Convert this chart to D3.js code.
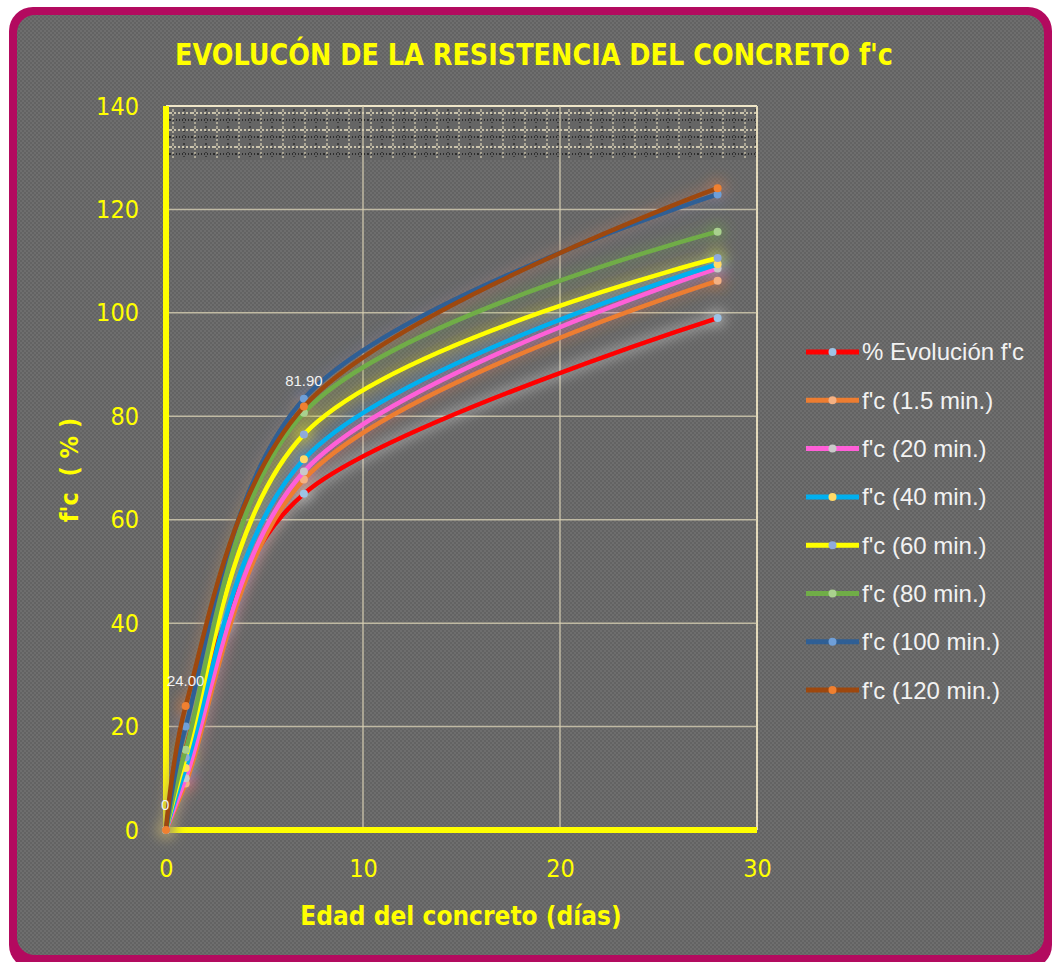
<!DOCTYPE html>
<html>
<head>
<meta charset="utf-8">
<script src="https://cdn.jsdelivr.net/npm/d3@7"></script>
<style>
  html, body { margin: 0; padding: 0; background: #ffffff; }
  svg { display: block; }
</style>
</head>
<body>
<script>
// Age of the concrete (days) at each test
const days = [0, 1, 3, 7, 28];

// Strength reached, as % of f'c, per mixing-time series (null = not tested)
const evolucion = [0, null, 40, 65, 99];
const fc1_5 = [0, 9, null, 67.8, 106.2];
const fc20 = [0, 10, null, 69.3, 108.6];
const fc40 = [0, 12, null, 71.7, 109.4];
const fc60 = [0, 14, null, 76.5, 110.6];
const fc80 = [0, 15.5, null, 80.7, 115.7];
const fc100 = [0, 20, null, 83.4, 122.9];
const fc120 = [0, 24, null, 81.9, 124.1];

const seriesNames = ["% Evolución f'c", "f'c (1.5 min.)", "f'c (20 min.)", "f'c (40 min.)",
  "f'c (60 min.)", "f'c (80 min.)", "f'c (100 min.)", "f'c (120 min.)"];
const seriesValues = [evolucion, fc1_5, fc20, fc40, fc60, fc80, fc100, fc120];
const lineColors = ["#ff0000", "#ed7d31", "#ff5fd8", "#00b0f0", "#ffff00", "#70ad47", "#2f5f95", "#9e480e"];
const markerColors = ["#9dc3e6", "#f4b183", "#c9c9c9", "#ffd966", "#8faadc", "#a9d18e", "#6f9fd8", "#f08030"];
const glowColors = ["#e8e8e8", "#ed7d31", "#ff5fd8", "#00b0f0", "#ffff00", "#70ad47", "#4a7fc0", "#ed7d31"];

const xTicks = [0, 10, 20, 30];
const yTicks = [0, 20, 40, 60, 80, 100, 120, 140];

// Point labels shown for the last series: index into days
const labelledPoints = [0, 1, 3];

const W = 1052, H = 962;
const svg = d3.select("body").append("svg").attr("width", W).attr("height", H);
const defs = svg.append("defs");

// fine checkered grey used for the card background
const chk = defs.append("pattern").attr("id", "chk").attr("width", 4).attr("height", 4)
  .attr("patternUnits", "userSpaceOnUse");
chk.append("rect").attr("width", 4).attr("height", 4).attr("fill", "#6e6e6e");
chk.append("rect").attr("width", 2).attr("height", 2).attr("fill", "#636363");
chk.append("rect").attr("x", 2).attr("y", 2).attr("width", 2).attr("height", 2).attr("fill", "#636363");

// dotted texture of the top band of the plot
const band = defs.append("pattern").attr("id", "band").attr("width", 22).attr("height", 17)
  .attr("patternUnits", "userSpaceOnUse").attr("x", 170).attr("y", 110);
band.append("rect").attr("width", 22).attr("height", 17).attr("fill", "#656565");
band.append("line").attr("x1", 0).attr("x2", 22).attr("y1", 3).attr("y2", 3)
  .attr("stroke", "#ece2c4").attr("stroke-width", 1.4).attr("stroke-dasharray", "2,2");
band.append("line").attr("x1", 0).attr("x2", 22).attr("y1", 10).attr("y2", 10)
  .attr("stroke", "#1a1a1a").attr("stroke-width", 1.4).attr("stroke-dasharray", "1,2");
band.append("line").attr("x1", 3).attr("x2", 3).attr("y1", 0).attr("y2", 17)
  .attr("stroke", "#ddd4b6").attr("stroke-width", 1.2).attr("stroke-dasharray", "2,2");
band.append("line").attr("x1", 14).attr("x2", 14).attr("y1", 0).attr("y2", 17)
  .attr("stroke", "#222222").attr("stroke-width", 1.2).attr("stroke-dasharray", "1,3");

const glow = defs.append("filter").attr("id", "glow")
  .attr("x", "-20%").attr("y", "-20%").attr("width", "140%").attr("height", "140%");
glow.append("feGaussianBlur").attr("stdDeviation", 6);

// card with the magenta frame
svg.append("rect").attr("x", 9).attr("y", 7).attr("width", 1043).attr("height", 962)
  .attr("rx", 24).attr("fill", "#b30a5f");
svg.append("rect").attr("x", 17).attr("y", 15).attr("width", 1027).attr("height", 940)
  .attr("rx", 18).attr("fill", "url(#chk)");

const x = d3.scaleLinear().domain([0, 30]).range([166, 757]);
const y = d3.scaleLinear().domain([0, 140]).range([830, 106]);

// plot frame and top textured band
svg.append("rect").attr("x", x(0)).attr("y", y(140)).attr("width", x(30) - x(0)).attr("height", 54)
  .attr("fill", "url(#band)");
svg.append("line").attr("x1", x(0)).attr("x2", x(30)).attr("y1", y(140)).attr("y2", y(140))
  .attr("stroke", "#efe6c8").attr("stroke-width", 2);
svg.append("line").attr("x1", x(30)).attr("x2", x(30)).attr("y1", y(140)).attr("y2", y(0))
  .attr("stroke", "#e4dabb").attr("stroke-width", 2);

// gridlines
const grid = svg.append("g");
grid.selectAll("line.h").data(yTicks.filter(d => d > 0 && d < 140)).join("line")
  .attr("x1", x(0)).attr("x2", x(30)).attr("y1", d => y(d)).attr("y2", d => y(d))
  .attr("stroke", "#d6ceb2").attr("stroke-opacity", 0.8).attr("stroke-width", 1.5);
grid.selectAll("line.v").data(xTicks.filter(d => d > 0 && d < 30)).join("line")
  .attr("x1", d => x(d)).attr("x2", d => x(d)).attr("y1", y(140)).attr("y2", y(0))
  .attr("stroke", "#d6ceb2").attr("stroke-opacity", 0.8).attr("stroke-width", 1.5);

// axes
const axisFont = "'DejaVu Sans Condensed', 'DejaVu Sans', sans-serif";
const yAxis = svg.append("g").attr("transform", `translate(${x(0)},0)`)
  .call(d3.axisLeft(y).tickValues(yTicks).tickSize(0).tickPadding(27).tickFormat(d3.format("d")));
const xAxis = svg.append("g").attr("transform", `translate(0,${y(0)})`)
  .call(d3.axisBottom(x).tickValues(xTicks).tickSize(0).tickPadding(29).tickFormat(d3.format("d")));
[yAxis, xAxis].forEach(a => {
  a.select(".domain").remove();
  a.selectAll("text").attr("fill", "#ffff00").style("font-family", axisFont)
    .style("font-size", "25px").style("font-weight", "300");
});

svg.append("line").attr("x1", x(0)).attr("x2", x(0)).attr("y1", y(140)).attr("y2", y(0) + 3)
  .attr("stroke", "#ffff00").attr("stroke-width", 6);
svg.append("line").attr("x1", x(0) - 3).attr("x2", x(30)).attr("y1", y(0)).attr("y2", y(0))
  .attr("stroke", "#ffff00").attr("stroke-width", 6);

// series
const line = d3.line().x(d => x(d[0])).y(d => y(d[1])).curve(d3.curveCatmullRom.alpha(0.5));
const series = seriesValues.map((vals, i) => ({
  name: seriesNames[i],
  pts: days.map((d, j) => [d, vals[j]]).filter(p => p[1] !== null),
  color: lineColors[i], marker: markerColors[i], glow: glowColors[i]
}));

const glowG = svg.append("g").attr("filter", "url(#glow)");
glowG.selectAll("path").data(series).join("path")
  .attr("d", s => line(s.pts)).attr("fill", "none")
  .attr("stroke", s => s.glow).attr("stroke-width", 12)
  .attr("stroke-opacity", (s, i) => i === 0 ? 0.35 : 0.25);
glowG.selectAll("circle").data(series.flatMap(s => s.pts.map(p => ({ p, s })))).join("circle")
  .attr("cx", d => x(d.p[0])).attr("cy", d => y(d.p[1])).attr("r", 10)
  .attr("fill", d => d.s.glow).attr("fill-opacity", 0.3);

const lineG = svg.append("g");
series.forEach(s => {
  const g = lineG.append("g");
  g.append("path").attr("d", line(s.pts)).attr("fill", "none")
    .attr("stroke", s.color).attr("stroke-width", 4.5).attr("stroke-linecap", "round");
  g.selectAll("circle").data(s.pts).join("circle")
    .attr("cx", p => x(p[0])).attr("cy", p => y(p[1])).attr("r", 4)
    .attr("fill", s.marker);
});

// value labels on the 120 min series
const labelFont = "'Liberation Sans', Arial, sans-serif";
svg.append("g").selectAll("text").data(labelledPoints.map(i => [days[i], fc120[i]])).join("text")
  .attr("x", p => x(p[0]))
  .attr("y", p => y(p[1]) - 20)
  .attr("text-anchor", p => p[1] === 0 ? "start" : "middle")
  .attr("dx", p => p[1] === 0 ? -5 : 0)
  .attr("fill", "#f2f2f2").style("font-family", labelFont).style("font-size", "15px")
  .text(p => p[1] === 0 ? "0" : d3.format(".2f")(p[1]));

// legend
const legend = svg.append("g").attr("transform", "translate(806,352)");
const rowH = 48.3;
series.forEach((s, i) => {
  const r = legend.append("g").attr("transform", `translate(0,${i * rowH})`);
  r.append("line").attr("x1", 0).attr("x2", 53).attr("stroke", s.color).attr("stroke-width", 5);
  r.append("circle").attr("cx", 26.5).attr("r", 4).attr("fill", s.marker);
  r.append("text").attr("x", 56).attr("dy", "0.35em").attr("fill", "#f2f2f2")
    .style("font-family", labelFont).style("font-size", "24px").text(s.name);
});

// titles
svg.append("text").attr("x", 534).attr("y", 65).attr("text-anchor", "middle")
  .attr("fill", "#ffff00").style("font-family", axisFont).style("font-weight", "bold")
  .style("font-size", "31px").attr("textLength", 718).attr("lengthAdjust", "spacingAndGlyphs")
  .text("EVOLUCÓN DE LA RESISTENCIA DEL CONCRETO f'c");

svg.append("text").attr("x", 461).attr("y", 925).attr("text-anchor", "middle")
  .attr("fill", "#ffff00").style("font-family", axisFont).style("font-weight", "bold")
  .style("font-size", "26px").text("Edad del concreto (días)");

svg.append("text").attr("transform", "translate(78,470) rotate(-90)").attr("text-anchor", "middle")
  .attr("fill", "#ffff00").style("font-family", axisFont).style("font-weight", "bold")
  .style("font-size", "25px").style("white-space", "pre").text("f'c  ( % )");
</script>
</body>
</html>
